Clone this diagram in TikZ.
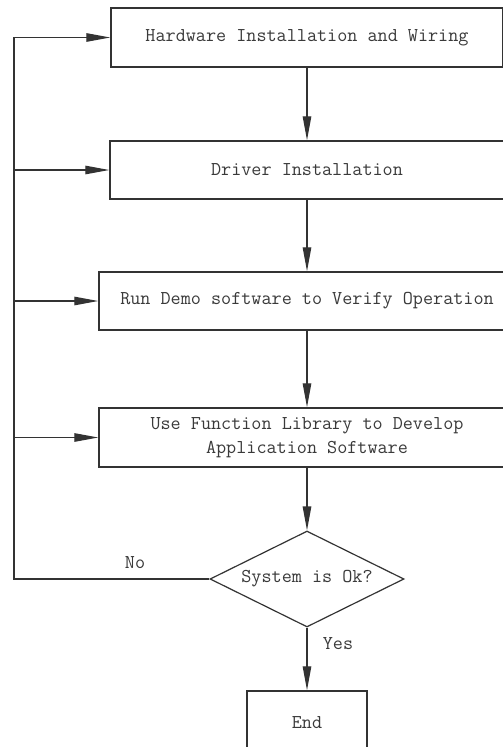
\documentclass[tikz,border=0pt]{standalone}
\usetikzlibrary{arrows.meta,shapes.geometric}
\definecolor{ln}{HTML}{333333}
\definecolor{tx}{HTML}{3A3A3A}
\begin{document}
\begin{tikzpicture}[x=1pt,y=-1pt,
  box/.style={draw=ln,line width=1.5pt,rectangle,inner sep=0pt,text=tx,
    font=\ttfamily\fontsize{19.6}{24}\selectfont,align=center},
  dec/.style={draw=ln,line width=1.2pt,diamond,aspect=2,inner sep=0pt,text=tx,
    minimum width=194pt,minimum height=96pt,font=\ttfamily\fontsize{19.6}{24}\selectfont},
  arr/.style={draw=ln,line width=1.2pt,-{Triangle[length=24pt,width=8.5pt]}},
  lbl/.style={text=tx,font=\ttfamily\fontsize{19.6}{24}\selectfont}]
\useasboundingbox (0,0) rectangle (503,747);
\fill[white] (0,0) rectangle (503,747);
\clip (0,0) rectangle (503,747);
\node[box,minimum width=392pt,minimum height=59pt] (b1) at (307,37.5) {Hardware Installation and Wiring};
\node[box,minimum width=394pt,minimum height=58pt] (b2) at (307,170) {Driver Installation};
\node[box,minimum width=416pt,minimum height=58pt] (b3) at (307,301) {Run Demo software to Verify Operation};
\node[box,minimum width=416pt,minimum height=59pt] (b4) at (307,437.5) {Use Function Library to Develop\\Application Software};
\node[dec] (d) at (307,579) {System is Ok?};
\node[box,minimum width=120pt,minimum height=64pt] (e) at (307,723) {End};
\draw[arr] (b1) -- (b2);
\draw[arr] (b2) -- (b3);
\draw[arr] (b3) -- (b4);
\draw[arr] (b4) -- (d);
\draw[arr] (d) -- (e);
\coordinate (L) at (14,579);
\draw[arr] (d.west) -- (L) |- (b1.west);
\draw[arr] (L |- b2.west) -- (b2.west);
\draw[arr] (L |- b3.west) -- (b3.west);
\draw[arr] (L |- b4.west) -- (b4.west);
\node[lbl] (no) at (135,563) {No};
\node[lbl] (yes) at (338,644) {Yes};
\end{tikzpicture}
\end{document}
